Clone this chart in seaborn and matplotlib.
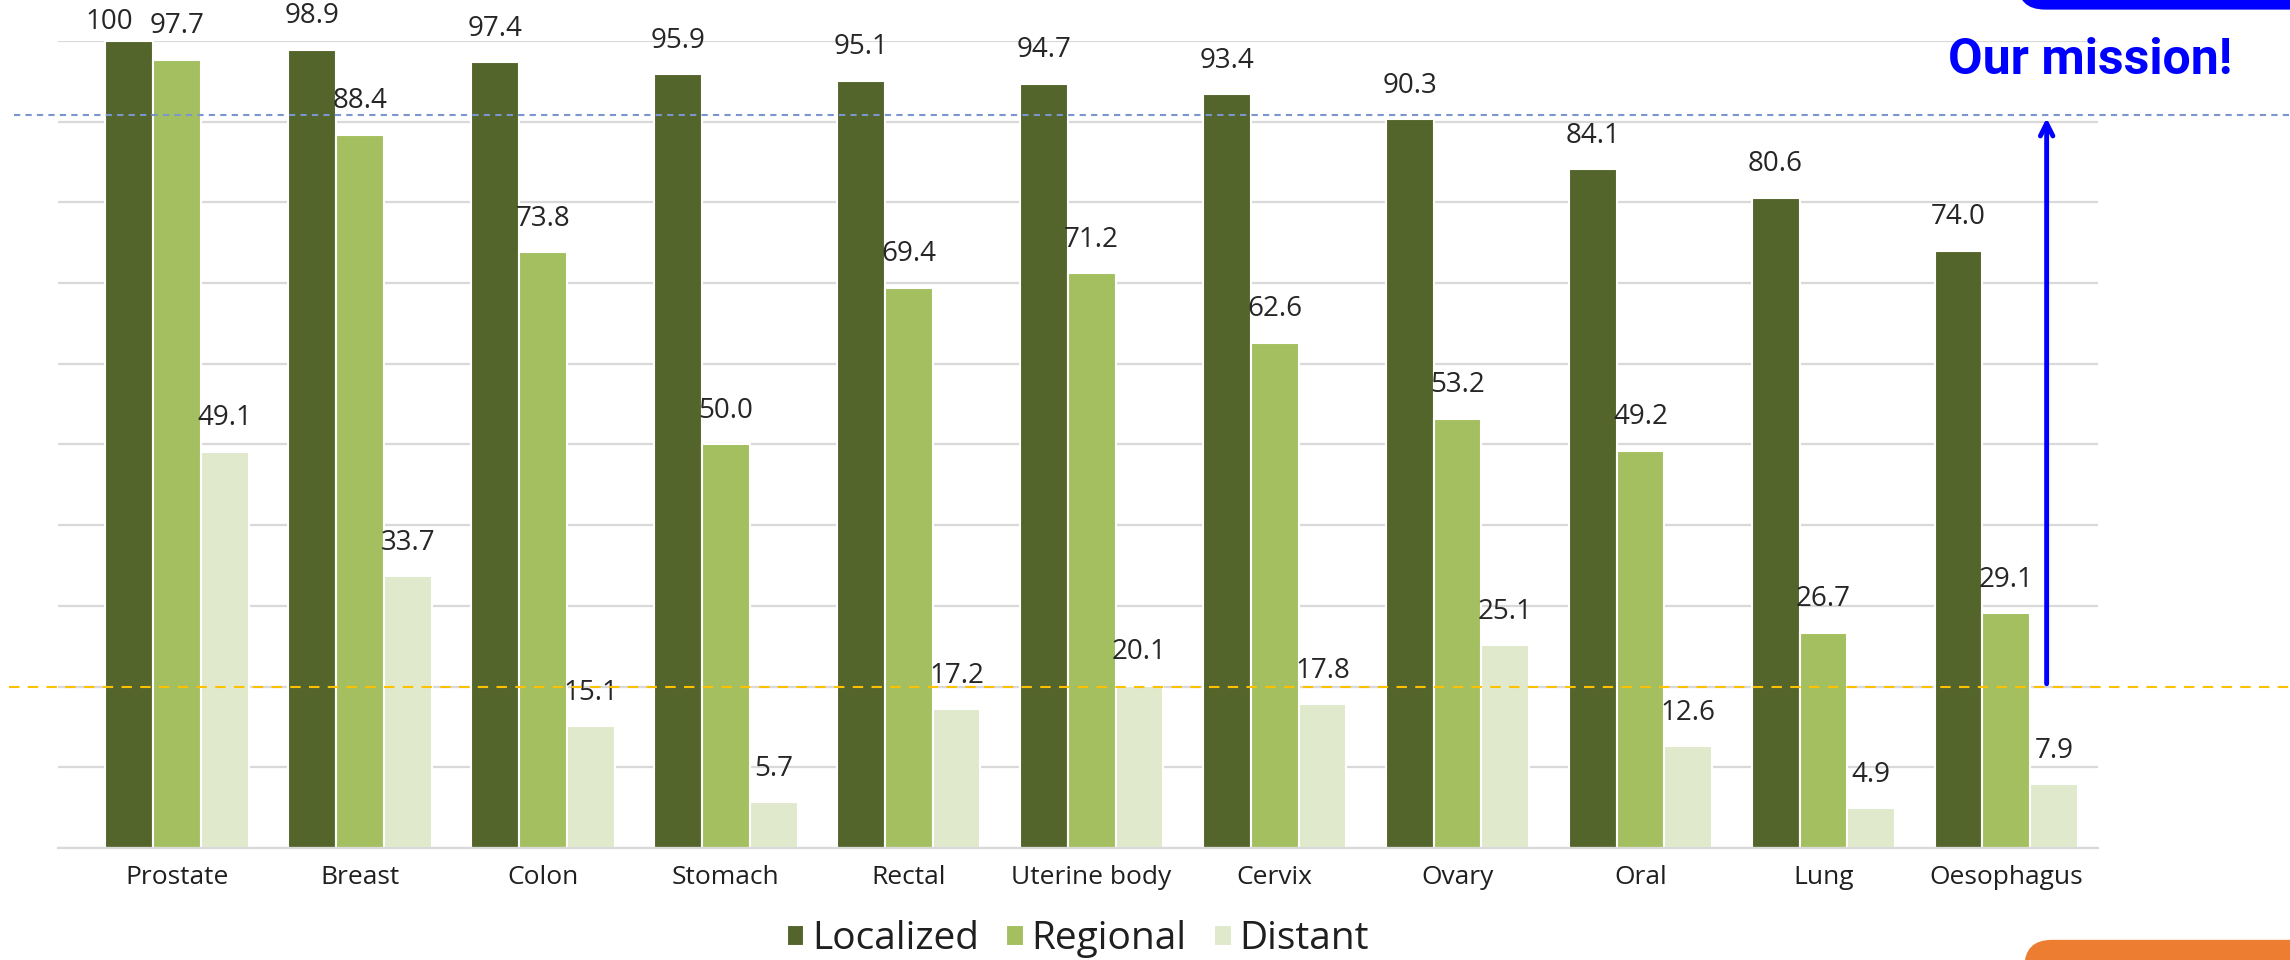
import matplotlib
matplotlib.use("Agg")
import matplotlib.pyplot as plt
import matplotlib.transforms as mtransforms
from matplotlib.patches import FancyBboxPatch
import seaborn as sns
import pandas as pd

# data (5-year survival, %)
sites = ["Prostate", "Breast", "Colon", "Stomach", "Rectal", "Uterine body",
         "Cervix", "Ovary", "Oral", "Lung", "Oesophagus"]
localized = [100, 98.9, 97.4, 95.9, 95.1, 94.7, 93.4, 90.3, 84.1, 80.6, 74.0]
regional = [97.7, 88.4, 73.8, 50.0, 69.4, 71.2, 62.6, 53.2, 49.2, 26.7, 29.1]
distant = [49.1, 33.7, 15.1, 5.7, 17.2, 20.1, 17.8, 25.1, 12.6, 4.9, 7.9]
stages = ["Localized", "Regional", "Distant"]
colors = ["#53652A", "#A3BF60", "#E0E9CC"]

mission_low = 20
mission_high = 90.8

df = pd.DataFrame({
    "site": sites * 3,
    "stage": [s for s in stages for _ in sites],
    "value": localized + regional + distant,
})

sns.set_style("white")
plt.rcParams["font.family"] = ["Open Sans", "DejaVu Sans"]

fig = plt.figure(figsize=(22.9, 9.6), dpi=100)
ax = fig.add_axes([0.0253, 0.1167, 0.8908, 0.8406])

sns.barplot(data=df, x="site", y="value", hue="stage", order=sites,
            hue_order=stages, palette=colors, width=0.785,
            edgecolor="white", linewidth=1.5, saturation=1, ax=ax, zorder=2)

ax.set_ylim(0, 100)
ax.set_xlim(-0.65, 10.5)
ax.set_yticks(range(0, 101, 10))
ax.yaxis.grid(True, color="#D9D9D9", linewidth=1.6, zorder=0)
ax.set_axisbelow(True)
ax.set_yticklabels([])
ax.tick_params(axis="y", length=0)
ax.tick_params(axis="x", length=0, pad=12, labelsize=19, labelcolor="#1F1F1F")
for side in ["top", "right", "left"]:
    ax.spines[side].set_visible(False)
ax.spines["bottom"].set_color("#D9D9D9")
ax.spines["bottom"].set_linewidth(1.6)
ax.set_xlabel("")
ax.set_ylabel("")

for cont in ax.containers:
    texts = ax.bar_label(cont, fmt="%.1f", padding=14, fontsize=20,
                         color="#262626", clip_on=False)
    for t, v in zip(texts, cont.datavalues):
        if v == 100:
            # sits left of its bar so it does not collide with 97.7
            t.set_text("100")
            t.xy = (t.xy[0] - 0.11, 98.2)

leg = ax.legend(loc="center", bbox_to_anchor=(0.5, -0.113), ncol=3,
                frameon=False, fontsize=28, handlelength=0.45,
                handleheight=0.45, handletextpad=0.2, columnspacing=0.7)
for txt in leg.get_texts():
    txt.set_color("#1F1F1F")

# reference lines across the whole figure
trans = mtransforms.blended_transform_factory(fig.transFigure, ax.transData)
ax.plot([0.004, 1.0], [mission_low, mission_low], transform=trans,
        color="#FFC000", linestyle=(0, (5, 4)), linewidth=1.5, clip_on=False, zorder=3)
ax.plot([0.006, 1.0], [mission_high, mission_high], transform=trans,
        color="#7B96CF", linestyle=(0, (3, 2.5)), linewidth=1.5, clip_on=False, zorder=3)

# mission arrow
ax.annotate("", xy=(10.22, mission_high), xytext=(10.22, mission_low),
            arrowprops=dict(arrowstyle="->,head_length=0.9,head_width=0.45",
                            color="#0000FF", lw=3.5), annotation_clip=False, zorder=4)
fig.text(0.9125, 0.937, "Our mission!", color="#0000FF", fontsize=36,
         fontweight="bold", family=["Roboto", "DejaVu Sans"], ha="center", va="center")

# decorative boxes cut by the canvas edge
fig.patches.append(FancyBboxPatch((0.881, 0.99), 0.2, 0.1, boxstyle="round,pad=0,rounding_size=0.012",
                                  transform=fig.transFigure, facecolor="#0000FF",
                                  edgecolor="none", mutation_aspect=2.4))
fig.patches.append(FancyBboxPatch((0.884, -0.1), 0.2, 0.121, boxstyle="round,pad=0,rounding_size=0.012",
                                  transform=fig.transFigure, facecolor="#ED7D31",
                                  edgecolor="none", mutation_aspect=2.4))

fig.savefig("out.png", dpi=100)
